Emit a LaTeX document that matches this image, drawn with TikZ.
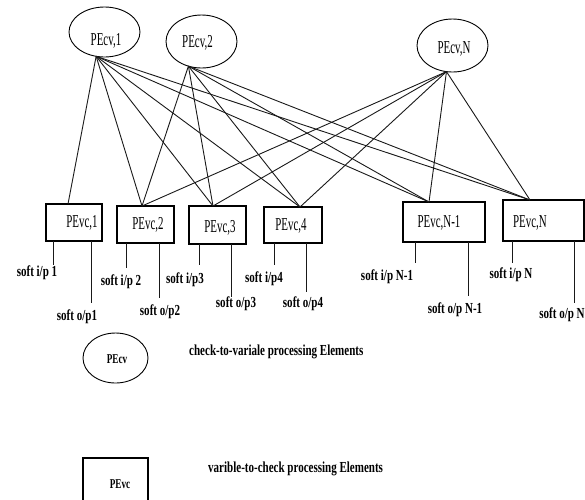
\documentclass[tikz,border=0pt]{standalone}
\usepackage{fontspec}
\setmainfont{Liberation Serif}
\newfontfamily\pefont[FakeStretch=0.6]{Liberation Serif}
\newfontfamily\softfont[FakeStretch=0.72]{Liberation Serif}
\newfontfamily\keyfont[FakeStretch=0.68]{Liberation Serif}
\usetikzlibrary{shapes.geometric}

\begin{document}
\begin{tikzpicture}[x=1pt,y=-1pt,
  wire/.style={line width=0.9pt, black!90},
  cvnode/.style={draw, line width=0.9pt, ellipse, inner sep=0pt, outer sep=0pt},
  vcnode/.style={draw, line width=1.1pt, rectangle, inner sep=0pt, outer sep=0pt},
  petext/.style={anchor=base, inner sep=0pt, font=\pefont\fontsize{18.2}{21}\selectfont},
  softtext/.style={anchor=base, inner sep=0pt, font=\softfont\bfseries\fontsize{15.3}{18}\selectfont},
  keytext/.style={anchor=base, inner sep=0pt, font=\keyfont\bfseries\fontsize{13.5}{16}\selectfont},
  desctext/.style={anchor=base west, inner sep=0pt, font=\softfont\bfseries\fontsize{15.3}{18}\selectfont},
]
\useasboundingbox (0,0) rectangle (585,499);
\clip (0,0) rectangle (585,499);

% check-to-variable processing elements
\node[cvnode, minimum width=71pt, minimum height=50pt] (cv1) at (104.5,32) {};
\node[cvnode, minimum width=71pt, minimum height=53pt] (cv2) at (201.5,41.5) {};
\node[cvnode, minimum width=71pt, minimum height=53pt] (cvN) at (452.5,45.5) {};
\node[petext] (cv1t) at (106,45) {PEcv,1};
\node[petext] (cv2t) at (197.5,47) {PEcv,2};
\node[petext] (cvNt) at (454,53) {PEcv,N};

% variable-to-check processing elements
\node[vcnode, minimum width=56pt, minimum height=37pt] (vc1) at (74,222.5) {};
\node[vcnode, minimum width=57pt, minimum height=37pt] (vc2) at (145.5,224.5) {};
\node[vcnode, minimum width=57pt, minimum height=38pt] (vc3) at (217.5,225) {};
\node[vcnode, minimum width=58pt, minimum height=36pt] (vc4) at (293,225) {};
\node[vcnode, minimum width=82pt, minimum height=40pt] (vcM) at (444,222) {};
\node[vcnode, minimum width=81pt, minimum height=41pt] (vcN) at (543.5,220.5) {};
\node[petext] (vc1t) at (82,227) {PEvc,1};
\node[petext] (vc2t) at (148,229) {PEvc,2};
\node[petext] (vc3t) at (220,232) {PEvc,3};
\node[petext] (vc4t) at (291,230) {PEvc,4};
\node[petext] (vcMt) at (439,227) {PEvc,N-1};
\node[petext] (vcNt) at (530,227) {PEvc,N};

% edges of the graph
\foreach \v/\dx in {vc1/-6, vc2/-3.5, vc3/-4.5, vc4/7, vcM/-15, vcN/-13.5}
  \draw[wire] (cv1.-109) -- ([xshift=\dx pt]\v.north);
\foreach \v/\dx in {vc2/-3.5, vc3/-4.5, vc4/7, vcM/-15, vcN/-13.5}
  \draw[wire] (cv2.-118) -- ([xshift=\dx pt]\v.north);
\foreach \v/\dx in {vc2/-3.5, vc3/-4.5, vc4/7, vcM/-15, vcN/-13.5}
  \draw[wire] (cvN.-103) -- ([xshift=\dx pt]\v.north);

% soft input / output legs
\draw[wire] ([xshift=7pt]vc1.south west) -- ++(0,24);
\draw[wire] ([xshift=45pt]vc1.south west) -- ++(0,62);
\draw[wire] ([xshift=9pt]vc2.south west) -- ++(0,25);
\draw[wire] ([xshift=42pt]vc2.south west) -- ++(0,55);
\draw[wire] ([xshift=10pt]vc3.south west) -- ++(0,21);
\draw[wire] ([xshift=42pt]vc3.south west) -- ++(0,53);
\draw[wire] ([xshift=10pt]vc4.south west) -- ++(0,22);
\draw[wire] ([xshift=42pt]vc4.south west) -- ++(0,49);
\draw[wire] ([xshift=12pt]vcM.south west) -- ++(0,21);
\draw[wire] ([xshift=65pt]vcM.south west) -- ++(0,54);
\draw[wire] ([xshift=9pt]vcN.south west) -- ++(0,22);
\draw[wire] ([xshift=71pt]vcN.south west) -- ++(0,62);

\node[softtext] (ip1) at (37,276) {soft i/p 1};
\node[softtext] (op1) at (77,320) {soft o/p1};
\node[softtext] (ip2) at (121,285) {soft i/p 2};
\node[softtext] (op2) at (160,315) {soft o/p2};
\node[softtext] (ip3) at (185,283) {soft i/p3};
\node[softtext] (op3) at (236,307) {soft o/p3};
\node[softtext] (ip4) at (264,282) {soft i/p4};
\node[softtext] (op4) at (303,307) {soft o/p4};
\node[softtext] (ipM) at (387,280) {soft i/p N-1};
\node[softtext] (opM) at (455,313) {soft o/p N-1};
\node[softtext] (ipN) at (511,278) {soft i/p N};
\node[softtext] (opN) at (562,318) {soft o/p N};

% key
\node[cvnode, minimum width=65pt, minimum height=50pt] (keycv) at (115.5,358) {};
\node[keytext] (keycvt) at (117,363) {PEcv};
\node[desctext] (keycvd) at (189,355) {check-to-variale processing Elements};
\node[vcnode, minimum width=65pt, minimum height=47pt] (keyvc) at (115.5,481.5) {};
\node[keytext] (keyvct) at (120,488) {PEvc};
\node[desctext] (keyvcd) at (208,472) {varible-to-check processing Elements};
\end{tikzpicture}
\end{document}
